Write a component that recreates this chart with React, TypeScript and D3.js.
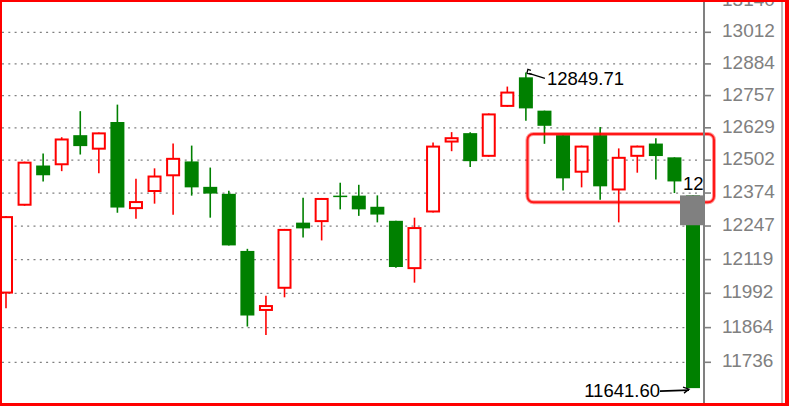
import React from "react";
import * as d3 from "d3";

const sessions = d3.range(1, 39).map((d) => `S${d}`);
const opens = [11991,12325,12481,12482,12600,12543,12652,12312,12378,12439,12497,12398,12371,12152,11926,12009,12260,12262,12364,12364,12321,12267,12083,12299,12571,12608,12515,12712,12830,12697,12600,12453,12600,12384,12515,12567,12513,12365];
const highs = [12285,12496,12528,12592,12695,12611,12721,12429,12470,12567,12559,12473,12383,12160,11983,12236,12356,12355,12414,12406,12365,12267,12279,12571,12612,12612,12686,12793,12849.71,12697,12600,12559,12632,12548,12559,12588,12513,12365];
const lows = [11936,12325,12419,12459,12524,12451,12298,12275,12333,12290,12364,12279,12173,11868,11837,11977,12203,12192,12311,12286,12261,12088,12032,12299,12537,12475,12515,12712,12657,12566,12384,12396,12348,12261,12453,12427,12374,11641.6];
const closes = [12285,12496,12443,12587,12557,12611,12318,12343,12442,12511,12396,12372,12173,11909,11948,12236,12238,12355,12359,12311,12291,12091,12243,12559,12592,12498,12686,12773,12706,12637,12431,12559,12400,12515,12559,12518,12419,11641.6];
const tickValues = [13140, 13012, 12884, 12757, 12629, 12502, 12374, 12247, 12119, 11992, 11864, 11736];
const maxLabel = "12849.71";
const minLabel = "11641.60";
const lastLabel = "12";
const highlightTop = 12605;
const highlightBottom = 12338;
const markerTop = 12365;
const markerBottom = 12250;

const W = 789;
const H = 406;
const GREEN = "#008000";
const RED = "#ff0000";
const GRAY = "#808080";
const FONT = "'Liberation Sans', Arial, sans-serif";

export default function App() {
  const x = d3.scalePoint<string>().domain(sessions).range([6, 693]);
  const y = d3.scaleLog().domain([11736, 13012]).range([362.3, 32.3]);
  const axisX = 704;
  const bodyW = 14;

  const candles = sessions.map((s, i) => ({
    s,
    o: opens[i],
    h: highs[i],
    l: lows[i],
    c: closes[i],
  }));

  const maxIdx = highs.indexOf(d3.max(highs) as number);
  const minIdx = lows.indexOf(d3.min(lows) as number);
  const mx = x(sessions[maxIdx]) as number;
  const my = y(highs[maxIdx]);
  const nx = x(sessions[minIdx]) as number;
  const ny = y(lows[minIdx]);
  const lastX = x(sessions[sessions.length - 1]) as number;
  const hlX = (x(sessions[29]) as number) - 17;

  return (
    <svg
      width={W}
      height={H}
      style={{ position: "absolute", left: 0, top: 0, background: "#fff" }}
    >
      <rect x={0} y={0} width={W} height={H} fill="#fff" />
      {tickValues.map((t) => (
        <line
          key={`g${t}`}
          x1={2}
          x2={698}
          y1={y(t)}
          y2={y(t)}
          stroke={GRAY}
          strokeWidth={1.3}
          strokeDasharray="2 4.3"
        />
      ))}
      {candles.map((d) => {
        const cx = x(d.s) as number;
        const up = d.c >= d.o;
        const top = y(Math.max(d.o, d.c));
        const bot = y(Math.min(d.o, d.c));
        const col = up ? RED : GREEN;
        return (
          <g key={d.s}>
            <line x1={cx} x2={cx} y1={y(d.h)} y2={y(d.l)} stroke={col} strokeWidth={1.6} />
            {up ? (
              <rect
                x={cx - bodyW / 2 + 1}
                y={top + 1}
                width={bodyW - 2}
                height={Math.max(bot - top - 2, 1)}
                fill="#fff"
                stroke={RED}
                strokeWidth={2}
              />
            ) : (
              <rect
                x={cx - bodyW / 2}
                y={top}
                width={bodyW}
                height={Math.max(bot - top, 1.5)}
                fill={GREEN}
              />
            )}
          </g>
        );
      })}
      <rect
        x={hlX}
        y={y(highlightTop)}
        width={axisX + 10 - hlX}
        height={y(highlightBottom) - y(highlightTop)}
        rx={6}
        ry={6}
        fill="none"
        stroke={RED}
        strokeOpacity={0.4}
        strokeWidth={4}
      />
      <rect
        x={hlX}
        y={y(highlightTop)}
        width={axisX + 10 - hlX}
        height={y(highlightBottom) - y(highlightTop)}
        rx={6}
        ry={6}
        fill="none"
        stroke={RED}
        strokeOpacity={0.85}
        strokeWidth={2}
      />
      <text x={683} y={y(highlightBottom) - 12.5} fontFamily={FONT} fontSize={18.5} fill="#000">
        {lastLabel}
      </text>
      <rect
        x={lastX - 13}
        y={y(markerTop)}
        width={axisX + 1 - (lastX - 13)}
        height={y(markerBottom) - y(markerTop)}
        fill={GRAY}
      />
      <line x1={mx + 19} y1={my + 6} x2={mx + 3} y2={my + 1} stroke="#000" strokeWidth={1.2} />
      <path
        d={`M${mx + 1},${my + 1} L${mx + 2},${my - 3} L${mx + 5},${my - 2} M${mx + 1},${my + 1} L${mx + 6},${my + 2}`}
        stroke="#000"
        strokeWidth={1.3}
        fill="none"
      />
      <text x={mx + 21} y={my + 13} fontFamily={FONT} fontSize={18.5} fill="#000">
        {maxLabel}
      </text>
      <text x={nx - 33} y={ny + 9} fontFamily={FONT} fontSize={18.5} fill="#000" textAnchor="end">
        {minLabel}
      </text>
      <line x1={nx - 33} y1={ny + 3} x2={nx - 4} y2={ny + 2} stroke="#000" strokeWidth={1.6} />
      <path
        d={`M${nx - 10},${ny - 1} L${nx - 4},${ny + 1} L${nx - 9},${ny + 5}`}
        stroke="#000"
        strokeWidth={1.3}
        fill="none"
      />
      <line x1={axisX} x2={axisX} y1={0} y2={H} stroke={GRAY} strokeWidth={2} />
      {tickValues.map((t) => (
        <g key={`t${t}`}>
          <line x1={axisX} x2={axisX + 7} y1={y(t)} y2={y(t)} stroke={GRAY} strokeWidth={1.6} />
          <text x={722} y={y(t) + 5} fontFamily={FONT} fontSize={19} fill={GRAY}>
            {d3.format("d")(t)}
          </text>
        </g>
      ))}
      <line x1={782} x2={782} y1={0} y2={H} stroke={GRAY} strokeWidth={1} />
      <rect x={0} y={0} width={2} height={H} fill={RED} />
      <rect x={0} y={0} width={W} height={2} fill={RED} />
      <rect x={785} y={0} width={4} height={H} fill={RED} />
      <rect x={0} y={403} width={W} height={3} fill={RED} />
    </svg>
  );
}
